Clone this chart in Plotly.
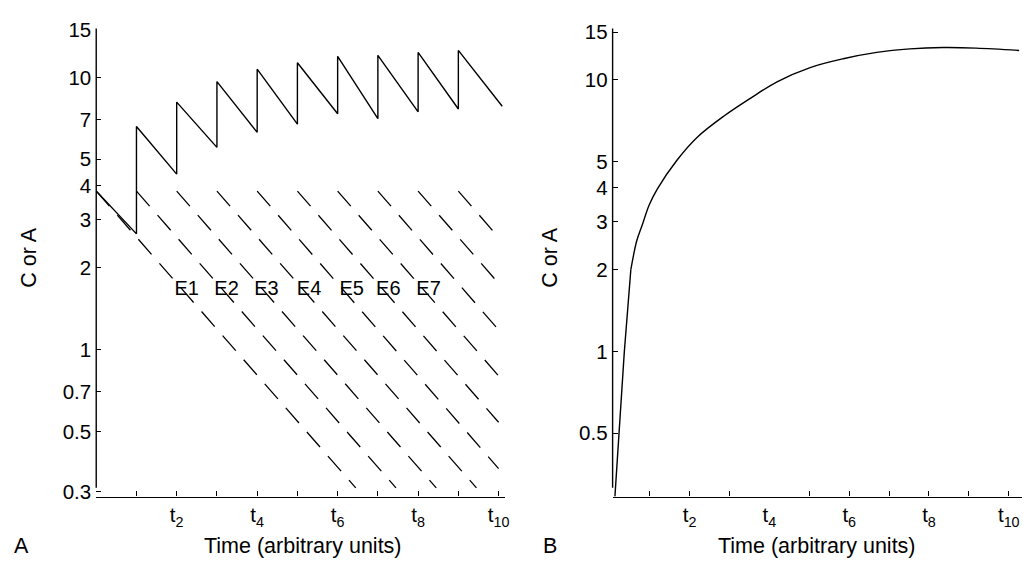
import numpy as np
import plotly.graph_objects as go

FONT = "Liberation Sans, Arial, Helvetica, sans-serif"
W, H = 1027, 563

# ---------------- Panel A data (multiple dosing, log scale) ----------------
dose_times = [0, 1, 2, 3, 4, 5, 6, 7, 8, 9]
dose_level = 3.82                     # level reached by each single dose
trough_levels = [2.66, 4.41, 5.53, 6.28, 6.73, 7.35, 7.05, 7.47, 7.65]   # just before doses 2..10
peak_levels = [6.60, 8.11, 9.65, 10.72, 11.32, 11.95, 12.05, 12.35, 12.56]  # just after doses 2..10
final_time = 10.09
final_level = 7.83

# end of each single-dose decay line (dashed)
single_end_times = [6.45, 7.45, 8.45, 9.45, 10.0, 10.0, 10.0, 10.0, 10.0, 10.0]
single_end_levels = [0.31, 0.31, 0.31, 0.31, 0.365, 0.54, 0.80, 1.18, 1.75, 2.58]

e_labels = ["E1", "E2", "E3", "E4", "E5", "E6", "E7"]
e_times = [2.25, 3.24, 4.23, 5.29, 6.35, 7.26, 8.26]
e_level = 1.65

a_ytick_vals = [0.3, 0.5, 0.7, 1, 2, 3, 4, 5, 7, 10, 15]
a_ytick_text = ["0.3", "0.5", "0.7", "1", "2", "3", "4", "5", "7", "10", "15"]

# ---------------- Panel B data (accumulation curve) ----------------
rise_times = [0.125, 0.235, 0.36, 0.524]
rise_levels = [0.292, 0.509, 0.994, 2.0]
curve_times = [0.524, 0.674, 0.817, 0.984, 1.19, 1.69, 2.19, 2.86, 3.52, 4.19,
               5.02, 5.85, 6.69, 7.52, 8.35, 9.18, 10.26]
curve_levels = [2.0, 2.56, 2.94, 3.46, 3.97, 5.08, 6.15, 7.36, 8.55, 9.84,
                11.10, 11.96, 12.62, 13.0, 13.15, 13.09, 12.83]

b_ytick_vals = [0.5, 1, 2, 3, 4, 5, 10, 15]
b_ytick_text = ["0.5", "1", "2", "3", "4", "5", "10", "15"]

x_tick_vals = list(range(1, 11))
x_tick_text = ["" if k % 2 else "t<sub>%d</sub>" % k for k in x_tick_vals]

# ---------------- Figure ----------------
fig = go.Figure()

# sawtooth (solid)
saw_x = [dose_times[0]]
saw_y = [dose_level]
for t, lo, hi in zip(dose_times[1:], trough_levels, peak_levels):
    saw_x += [t, t]
    saw_y += [lo, hi]
saw_x.append(final_time)
saw_y.append(final_level)

# single dose decay lines (dashed)
for t0, te, ve in zip(dose_times, single_end_times, single_end_levels):
    fig.add_trace(go.Scatter(x=[t0, te], y=[dose_level, ve], mode="lines",
                             line=dict(color="black", width=1.3, dash="20px,12px"),
                             xaxis="x", yaxis="y", showlegend=False, hoverinfo="skip"))

fig.add_trace(go.Scatter(x=saw_x, y=saw_y, mode="lines",
                         line=dict(color="black", width=1.4),
                         xaxis="x", yaxis="y", showlegend=False, hoverinfo="skip"))

fig.add_trace(go.Scatter(x=e_times, y=[e_level] * len(e_times), mode="text",
                         text=e_labels, textposition="middle center",
                         textfont=dict(family=FONT, size=20, color="black"),
                         xaxis="x", yaxis="y", showlegend=False, hoverinfo="skip"))

# Panel B
fig.add_trace(go.Scatter(x=rise_times, y=rise_levels, mode="lines",
                         line=dict(color="black", width=1.4),
                         xaxis="x2", yaxis="y2", showlegend=False, hoverinfo="skip"))
fig.add_trace(go.Scatter(x=curve_times, y=curve_levels, mode="lines",
                         line=dict(color="black", width=1.4, shape="spline", smoothing=1.0),
                         xaxis="x2", yaxis="y2", showlegend=False, hoverinfo="skip"))
# invisible trace so the overlaying axis (carrying the t4 label) is drawn
fig.add_trace(go.Scatter(x=[4], y=[1], mode="markers", marker=dict(opacity=0),
                         xaxis="x3", yaxis="y2", showlegend=False, hoverinfo="skip"))

# ---------------- Layout ----------------
def px_x(p):
    return p / W

def px_y(p):
    return 1 - p / H

ydom = [px_y(500.7), px_y(18)]
tickfont = dict(family=FONT, size=20.5, color="black")
common = dict(showgrid=False, zeroline=False, ticks="inside", ticklen=5,
              tickwidth=1.3, tickcolor="black", linecolor="black", linewidth=1.4,
              tickfont=tickfont, fixedrange=True)

fig.update_layout(
    width=W, height=H,
    margin=dict(l=0, r=0, t=0, b=0),
    paper_bgcolor="white", plot_bgcolor="white",
    showlegend=False,
    xaxis=dict(domain=[px_x(96.6), px_x(507)], range=[0, 10.16], showline=True,
               tickvals=x_tick_vals, ticktext=x_tick_text, anchor="y", **common),
    yaxis=dict(domain=ydom, type="log", range=[-0.5406, 1.1797], showline=False,
               tickvals=a_ytick_vals, ticktext=a_ytick_text, anchor="x",
               ticklabelstandoff=4, **common),
    xaxis2=dict(domain=[px_x(615), px_x(1026)], range=[0.067, 10.332], showline=True,
                tickvals=[1, 2, 3, 5, 6, 7, 8, 9, 10],
                ticktext=["", "t<sub>2</sub>", "", "", "t<sub>6</sub>", "", "t<sub>8</sub>", "", "t<sub>10</sub>"],
                anchor="y2", **common),
    xaxis3=dict(overlaying="x2", anchor="y2", range=[0.067, 10.332],
                showline=True, linecolor="rgba(0,0,0,0)", linewidth=1.4,
                showgrid=False, zeroline=False, ticks="inside", ticklen=5, tickwidth=1.3,
                tickcolor="rgba(0,0,0,0)", side="bottom",
                tickvals=[4], ticktext=["t<sub>4</sub>"], tickfont=tickfont, fixedrange=True),
    yaxis2=dict(domain=ydom, type="log", range=[-0.5346, 1.1893], showline=False,
                tickvals=b_ytick_vals, ticktext=b_ytick_text, anchor="x2",
                ticklabelstandoff=4, **common),
)

# y axis lines (they stop a little above the x axis, as in the original)
for xr, yr in (("x domain", "y domain"), ("x2 domain", "y2 domain")):
    fig.add_shape(type="line", xref=xr, yref=yr, x0=0, x1=0,
                  y0=(500.7 - 491.7) / 482.7, y1=1,
                  line=dict(color="black", width=1.4))

titlefont = dict(family=FONT, size=21.5, color="black")
ann = [
    dict(text="Time (arbitrary units)", x=px_x(304.5), y=px_y(552)),
    dict(text="Time (arbitrary units)", x=px_x(820), y=px_y(552)),
    dict(text="A", x=px_x(22), y=px_y(552)),
    dict(text="B", x=px_x(552), y=px_y(552)),
    dict(text="C or A", x=px_x(29), y=px_y(254.5), textangle=-90),
    dict(text="C or A", x=px_x(552), y=px_y(254.5), textangle=-90),
]
for a in ann:
    fig.add_annotation(xref="paper", yref="paper", showarrow=False,
                       xanchor="center", yanchor="middle", font=titlefont, **a)

fig.write_html("out.html")
